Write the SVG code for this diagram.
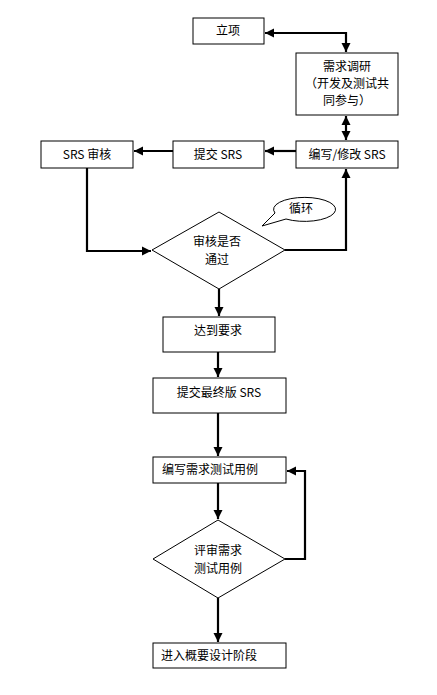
<svg xmlns="http://www.w3.org/2000/svg" width="437" height="695" viewBox="0 0 437 695">
<style>
.box{fill:#fff;stroke:#000;stroke-width:1}
.dia{fill:#fff;stroke:#000;stroke-width:1}
.t{font-family:"Noto Sans CJK SC","Liberation Sans",sans-serif;font-size:12px;fill:#000}
.c{text-anchor:middle}
.ln{fill:none;stroke:#000;stroke-width:2.2}
</style>
<defs>
<marker id="ah" markerUnits="userSpaceOnUse" markerWidth="10" markerHeight="10" viewBox="0 0 10 10" refX="9" refY="5" orient="auto">
<path d="M0,0.5 L9,5 L0,9.5 Z" fill="#000"/>
</marker>
<marker id="as" markerUnits="userSpaceOnUse" markerWidth="10" markerHeight="10" viewBox="0 0 10 10" refX="1" refY="5" orient="auto">
<path d="M10,0.5 L1,5 L10,9.5 Z" fill="#000"/>
</marker>
</defs>
<rect width="437" height="695" fill="#fff"/>
<g id="connectors">
<path class="ln" d="M265,33 H346 V52" marker-start="url(#as)" marker-end="url(#ah)"/>
<path class="ln" d="M346,116 V140" marker-start="url(#as)" marker-end="url(#ah)"/>
<path class="ln" d="M296,151 H265" marker-end="url(#ah)"/>
<path class="ln" d="M173,151 H134" marker-end="url(#ah)"/>
<path class="ln" d="M87,168 V251 H151" marker-end="url(#ah)"/>
<path class="ln" d="M285,250 H346 V169" marker-end="url(#ah)"/>
<path class="ln" d="M219,289 V316" marker-end="url(#ah)"/>
<path class="ln" d="M218,352 V377" marker-end="url(#ah)"/>
<path class="ln" d="M218,413 V456" marker-end="url(#ah)"/>
<path class="ln" d="M218,483 V519" marker-end="url(#ah)"/>
<path class="ln" d="M285,559 H305 V471 H287" marker-end="url(#ah)"/>
<path class="ln" d="M218,598 V642" marker-end="url(#ah)"/>
</g>
<g id="n-lixiang"><rect class="box" x="193" y="18" width="71" height="26"/><text class="t c" x="228" y="35">立项</text></g>
<g id="n-xuqiu"><rect class="box" x="296" y="53" width="102" height="62"/>
<text class="t c" x="347" y="71">需求调研</text>
<text class="t c" x="347" y="88">（开发及测试共</text>
<text class="t c" x="347" y="105">同参与）</text></g>
<g id="n-bianxie"><rect class="box" x="296" y="141" width="102" height="27"/><text class="t c" x="347" y="159">编写/修改 SRS</text></g>
<g id="n-tijiao"><rect class="box" x="173" y="141" width="91" height="27"/><text class="t c" x="218" y="159">提交 SRS</text></g>
<g id="n-shenhe"><rect class="box" x="41" y="141" width="92" height="27"/><text class="t c" x="87" y="159">SRS 审核</text></g>
<g id="n-dia1"><polygon class="dia" points="219,212 285,250 219,289 152,250"/>
<text class="t c" x="217" y="246">审核是否</text><text class="t c" x="217" y="264">通过</text></g>
<g id="n-loop"><path class="box" d="M275,213 A31,12 0 1 1 286,219 L262,226 Z"/><text class="t c" x="301" y="213">循环</text></g>
<g id="n-dadao"><rect class="box" x="163" y="317" width="112" height="35"/><text class="t c" x="218" y="335">达到要求</text></g>
<g id="n-final"><rect class="box" x="153" y="378" width="133" height="35"/><text class="t c" x="219" y="397">提交最终版 SRS</text></g>
<g id="n-case"><rect class="box" x="153" y="457" width="133" height="26"/><text class="t" x="162" y="474">编写需求测试用例</text></g>
<g id="n-dia2"><polygon class="dia" points="218,520 285,559 218,598 153,559"/>
<text class="t c" x="218" y="555">评审需求</text><text class="t c" x="218" y="573">测试用例</text></g>
<g id="n-next"><rect class="box" x="153" y="643" width="133" height="25"/><text class="t" x="161" y="660">进入概要设计阶段</text></g>
</svg>
